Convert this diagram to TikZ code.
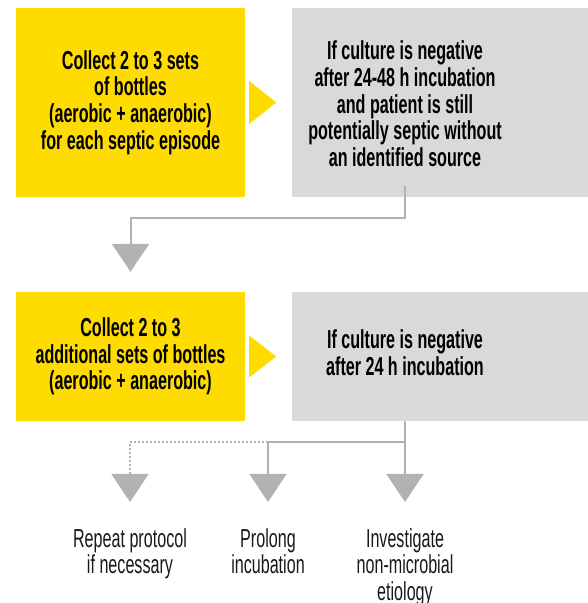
\documentclass[tikz,border=0pt]{standalone}
\usepackage{fontspec}
\setmainfont{Liberation Sans}[FakeStretch=0.62]
\usepackage{tikz}
\usetikzlibrary{arrows.meta, positioning, calc}
\definecolor{accent}{RGB}{255, 220, 0}
\definecolor{panel}{RGB}{217, 217, 217}
\definecolor{wire}{RGB}{178, 178, 178}
\tikzstyle{action} = [rectangle, fill=accent, minimum width=229pt, inner sep=0pt]
\tikzstyle{check} = [rectangle, fill=panel, minimum width=296pt, inner sep=0pt]
\tikzstyle{boxtext} = [align=center, inner sep=0pt, font=\fontsize{26}{26.7}\selectfont\bfseries]
\tikzstyle{outcome} = [align=center, anchor=north, inner sep=0pt, font=\fontsize{26}{26.5}\selectfont, text=black!90]
\tikzstyle{link} = [wire, line width=2pt, -{Triangle[width=37pt, length=28pt]}]

\begin{document}
\begin{tikzpicture}[x=1pt, y=1pt]
    \useasboundingbox (0,0) rectangle (588,603);

    % First step
    \node[action, minimum height=189pt] (collect1) at (130.5,500.5) {};
    \node[boxtext] (collecttxt1) at (collect1) {Collect 2 to 3 sets\\of bottles\\(aerobic + anaerobic)\\for each septic episode};
    \node[check, minimum height=189pt] (neg1) at (440,500.5) {};
    \node[boxtext] (negtxt1) at (405,499) {If culture is negative\\after 24-48 h incubation\\and patient is still\\potentially septic without\\an identified source};
    \fill[accent] ([xshift=4pt,yshift=21.5pt]collect1.east) -- ++(27,-21.5) -- ++(-27,-21.5) -- cycle;

    % Second step
    \node[action, minimum height=129pt] (collect2) at (130.5,246.5) {};
    \node[boxtext] (collecttxt2) at (collect2) {Collect 2 to 3\\additional sets of bottles\\(aerobic + anaerobic)};
    \node[check, minimum height=129pt] (neg2) at (440,246.5) {};
    \node[boxtext] (negtxt2) at (405,250) {If culture is negative\\after 24 h incubation};
    \fill[accent] ([xshift=4pt,yshift=21pt]collect2.east) -- ++(27,-21) -- ++(-27,-21) -- cycle;

    % Back to second step
    \draw[link, shorten >=20pt] ([yshift=11pt]negtxt1 |- neg1.south) -- ++(0,-32) -| (collect2.north);

    % Outcomes
    \node[outcome] (repeat) at (130,75) {Repeat protocol\\if necessary};
    \node[outcome] (prolong) at (268,75) {Prolong\\incubation};
    \node[outcome] (investigate) at (405,75) {Investigate\\non-microbial\\etiology};

    \draw[wire, line width=2pt] (negtxt2 |- neg2.south) -- ++(0,-21) coordinate (split);
    \draw[link, shorten >=26pt] (split) -- (investigate.north);
    \draw[link, shorten >=26pt] (split) -| (prolong.north);
    \draw[link, dotted, shorten >=26pt] (prolong |- split) -| (repeat.north);
\end{tikzpicture}
\end{document}
